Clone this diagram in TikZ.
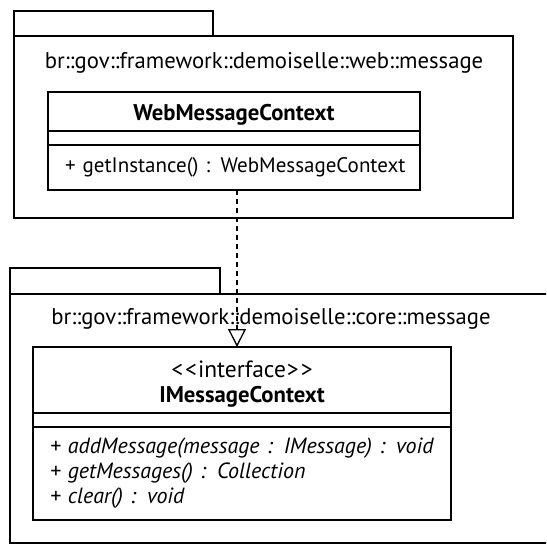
\documentclass[tikz,border=0pt]{standalone}
\usepackage{fontspec}
\setmainfont{PT Sans}
\usetikzlibrary{positioning,arrows.meta}

\newcommand{\pkgfont}{\fontsize{22.7}{26}\selectfont}
\newcommand{\bodyfont}{\fontsize{21}{25}\selectfont}
\newcommand{\stereofont}{\fontsize{23.5}{25}\selectfont}
\newcommand{\opfont}{\fontsize{22}{25}\selectfont\itshape}
\newcommand{\namefont}{\fontsize{22.7}{25}\selectfont\bfseries}

\tikzset{
  pkg/.style={draw, line width=2.2pt},
  pkglabel/.style={inner sep=0pt, font=\pkgfont},
  classline/.style={draw, line width=2.2pt},
  part/.style={draw, line width=1.4pt, inner sep=0pt, outer sep=0pt, minimum width=#1, align=center},
  oppart/.style={draw, line width=1.4pt, inner xsep=17pt, inner ysep=0pt, outer sep=0pt, text width=#1, align=left, font=\bodyfont},
  realization/.style={line width=1.3pt, dash pattern=on 5pt off 4pt,
    -{Triangle[open, length=18pt, width=18pt, line width=1.3pt]}}
}

\begin{document}
\begin{tikzpicture}[x=1pt, y=-1pt]
  \useasboundingbox (0,0) rectangle (546,546);
  \clip (0,0) rectangle (546,546);
  \fill[white] (0,0) rectangle (546,546);

  % web package
  \draw[pkg] (14,11) rectangle (213,36);
  \draw[pkg] (14,36) rectangle (513,218);
  \node[pkglabel] (weblabel) at (264,63) {br::gov::framework::demoiselle::web::message};

  \node[part=372pt, minimum height=39pt] (wname) at (234,111.5) {\namefont WebMessageContext\vrule height22pt depth0pt width0pt};
  \node[part=372pt, minimum height=14pt, below=0pt of wname] (wattr) {};
  \node[oppart=338pt, minimum height=45pt, below=0pt of wattr] (wops) {\mbox{+ getInstance() : WebMessageContext}};
  \draw[classline] (wname.north west) rectangle (wops.south east);

  % core package
  \draw[pkg] (10,268) rectangle (220,294);
  \draw[pkg] (10,294) rectangle (560,543);
  \node[pkglabel] (corelabel) at (271,319) {br::gov::framework::demoiselle::core::message};

  \node[part=418pt, minimum height=66pt, font=\stereofont] (iname) at (242,380)
    {\textless\kern2pt\textless\kern1pt interface\kern1pt\textgreater\kern2pt\textgreater\vrule height25pt depth0pt width0pt\\[0pt]%
     \namefont IMessageContext};
  \node[part=418pt, minimum height=14pt, below=0pt of iname] (iattr) {};
  \node[oppart=384pt, minimum height=93pt, below=0pt of iattr, font=\opfont] (iops)
    {\mbox{+ addMessage(message : IMessage) : void}\\
     \mbox{+ getMessages() : Collection}\\
     \mbox{+ clear() : void}};
  \draw[classline] (iname.north west) rectangle (iops.south east);

  % realization
  \coordinate (rx) at (237,0);
  \draw[realization] (wops.south -| rx) -- (iname.north -| rx);
\end{tikzpicture}
\end{document}
